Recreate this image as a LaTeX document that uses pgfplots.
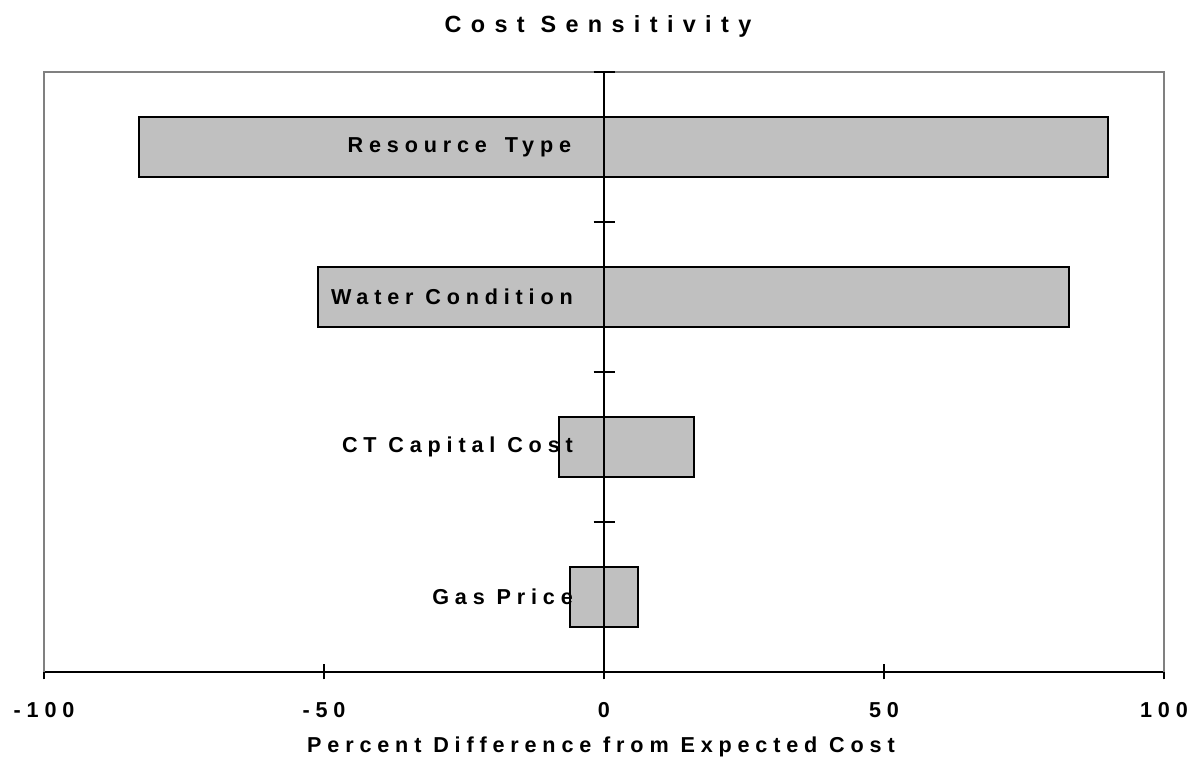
\documentclass[border=0pt]{standalone}
\usepackage{pgfplots}
\pgfplotsset{compat=1.18}
\usepackage{fontspec}
\setmainfont{Liberation Sans}
\newfontfamily\titlefont{Liberation Sans Bold}[LetterSpace=40]
\newfontfamily\labfont{Liberation Sans Bold}[LetterSpace=27]
\definecolor{barfill}{RGB}{192,192,192}
\definecolor{framegray}{RGB}{128,128,128}
\pgfplotstableread{
y lo hi
0 -6 6
1 -8 16
2 -51 83
3 -83 90
}\sens
\begin{document}
\begin{tikzpicture}
\begin{axis}[
  at={(0,0)}, anchor=south west,
  scale only axis, width=560pt, height=300pt,
  xmin=-100, xmax=100, ymin=-0.5, ymax=3.5,
  axis x line=bottom, axis y line=none,
  axis line style={-, black, line width=1pt},
  xtick={-100,-50,0,50,100},
  xticklabels={-100,-50,0,50,100},
  tick align=center,
  major tick length=7.5pt,
  x tick style={black, line width=1pt},
  xticklabel style={font=\labfont\fontsize{10.8}{13}\selectfont, anchor=base, inner sep=0pt, yshift=-19pt},
  xlabel={Percent Difference from Expected Cost},
  xlabel style={font=\labfont\fontsize{10.8}{13}\selectfont, at={(axis description cs:0.5,0)}, anchor=base, inner sep=0pt, yshift=-40.5pt, xshift=-1.5pt},
  title={Cost Sensitivity},
  title style={font=\titlefont\fontsize{11.7}{14}\selectfont, at={(axis description cs:0.5,1)}, anchor=base, inner sep=0pt, yshift=13.5pt, xshift=-3pt},
  xbar, bar width=0.4, bar shift=0pt,
  clip=false,
]
\draw[framegray, line width=1pt] (rel axis cs:0,0) -- (rel axis cs:0,1) -- (rel axis cs:1,1) -- (rel axis cs:1,0);
\addplot[draw=black, line width=1pt, fill=barfill] table[x=lo, y=y] {\sens};
\addplot[draw=black, line width=1pt, fill=barfill] table[x=hi, y=y] {\sens};
\draw[line width=1pt] (axis cs:0,-0.5) -- (axis cs:0,3.5);
\draw[line width=1pt] ([xshift=-5.25pt]axis cs:0,0.5) -- ([xshift=5.25pt]axis cs:0,0.5);
\draw[line width=1pt] ([xshift=-5.25pt]axis cs:0,1.5) -- ([xshift=5.25pt]axis cs:0,1.5);
\draw[line width=1pt] ([xshift=-5.25pt]axis cs:0,2.5) -- ([xshift=5.25pt]axis cs:0,2.5);
\draw[line width=1pt] ([xshift=-5.25pt]axis cs:0,3.5) -- ([xshift=5.25pt]axis cs:0,3.5);
\begin{scope}[every node/.style={font=\labfont\fontsize{10.8}{13}\selectfont, anchor=east, inner sep=0pt}]
\node at (axis cs:-5.8,3) {Resource\hspace{3pt} Type};
\node at (axis cs:-5.5,2) {Water Condition};
\node at (axis cs:-5.5,1) {CT Capital Cost};
\node at (axis cs:-5.5,0) {Gas Price};
\end{scope}
\end{axis}
\pgfresetboundingbox
\path (-22pt,-43.5pt) rectangle (575pt,336pt);
\end{tikzpicture}
\end{document}
